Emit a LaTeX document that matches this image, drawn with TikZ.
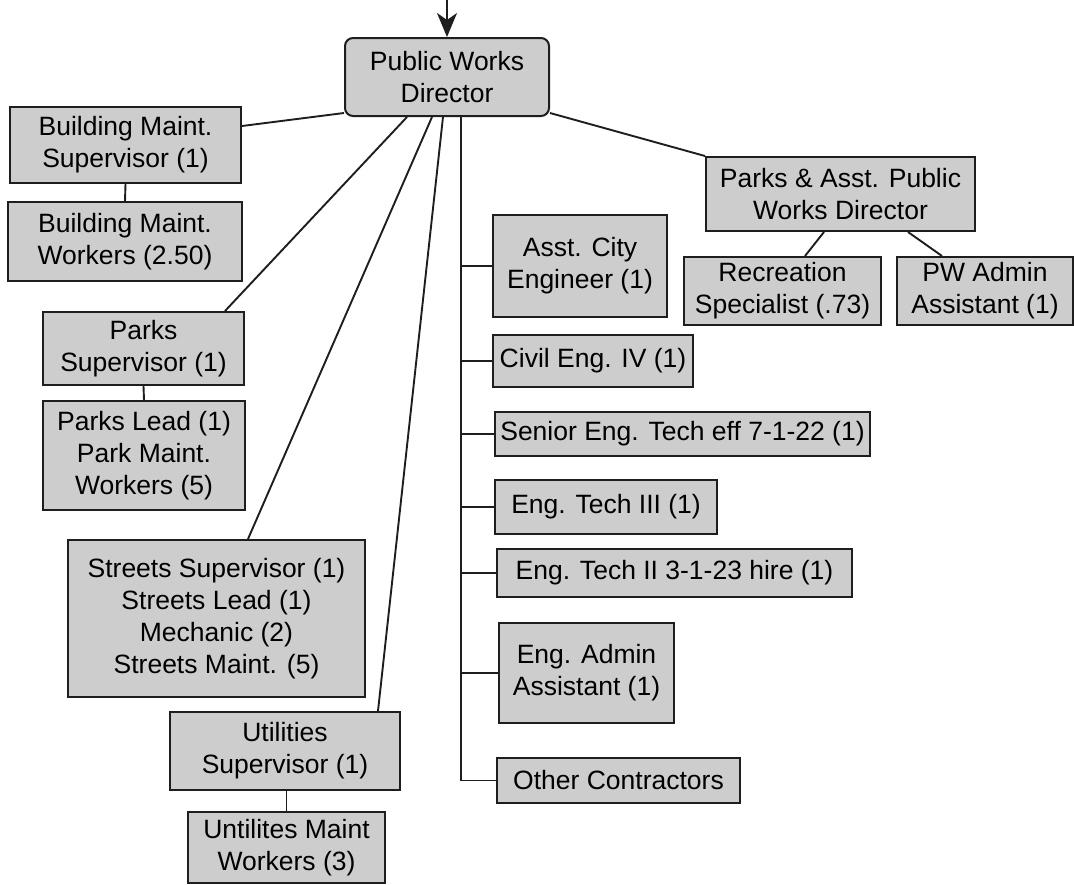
\documentclass[tikz,border=0pt]{standalone}
\usepackage{fontspec}
\setmainfont{Liberation Sans}
\usetikzlibrary{arrows.meta}
\definecolor{boxgray}{HTML}{CDCDCD}
\definecolor{edgegray}{HTML}{1E1E1E}
\tikzset{
  box/.style={draw=edgegray,line width=2pt,fill=boxgray,inner sep=0pt,
    align=center,font=\fontsize{26.5}{32}\selectfont},
  link/.style={draw=edgegray,line width=1.9pt}
}
\begin{document}
\begin{tikzpicture}[x=1pt,y=-1pt]
\useasboundingbox (0,0) rectangle (1074,884);
% Leitung
\node[box,rounded corners=8pt,minimum width=204pt,minimum height=78pt] (pwd) at (447,77) {Public Works\\Director};
\coordinate (top) at (447,0);
\draw[link,-{Stealth[length=24pt,width=20pt,inset=7pt]}] (top) -- (pwd.north);
% linke Seite
\node[box,minimum width=231pt,minimum height=76pt] (bms) at (125.5,145) {Building Maint.\\Supervisor (1)};
\node[box,minimum width=234pt,minimum height=79pt] (bmw) at (125,241.5) {Building Maint.\\Workers (2.50)};
\node[box,minimum width=201pt,minimum height=73pt] (ps) at (143.5,348.5) {Parks\\Supervisor (1)};
\node[box,minimum width=202pt,minimum height=109pt] (pl) at (144,455.5) {Parks Lead (1)\\Park Maint.\\Workers (5)};
\node[box,minimum width=297pt,minimum height=157pt] (st) at (216.5,618.5) {Streets Supervisor (1)\\Streets Lead (1)\\Mechanic (2)\\Streets Maint. (5)};
\node[box,minimum width=230pt,minimum height=78pt] (ut) at (285,751) {Utilities\\Supervisor (1)};
\node[box,minimum width=197pt,minimum height=71pt] (umw) at (286.5,847.5) {Untilites Maint\\Workers (3)};
% Engineering
\node[box,minimum width=174pt,minimum height=102pt] (ace) at (580,266) {Asst. City\\Engineer (1)};
\node[box,minimum width=200pt,minimum height=52pt] (cive) at (593,361) {Civil Eng. IV (1)};
\node[box,minimum width=375pt,minimum height=44pt] (set) at (682.5,434) {Senior Eng. Tech eff 7-1-22 (1)};
\node[box,minimum width=222pt,minimum height=54pt] (et3) at (606,507) {Eng. Tech III (1)};
\node[box,minimum width=355pt,minimum height=48pt] (et2) at (674.5,573) {Eng. Tech II 3-1-23 hire (1)};
\node[box,minimum width=175pt,minimum height=100pt] (eaa) at (586.5,673) {Eng. Admin\\Assistant (1)};
\node[box,minimum width=243pt,minimum height=45pt] (oc) at (618.5,780.5) {Other Contractors};
% rechte Seite
\node[box,minimum width=269pt,minimum height=74pt] (papwd) at (840.5,194) {Parks \& Asst. Public\\Works Director};
\node[box,minimum width=197pt,minimum height=68pt] (rec) at (782.5,291) {Recreation\\Specialist (.73)};
\node[box,minimum width=176pt,minimum height=68pt] (pwa) at (985,291) {PW Admin\\Assistant (1)};
% Verbindungen
\draw[link] ([yshift=4pt]pwd.south west) -- ([yshift=19pt]bms.east);
\draw[link] (bms.south) -- (bmw.north);
\draw[link] ([xshift=-40pt]pwd.south) -- ([xshift=81.5pt]ps.north);
\draw[link] (ps.south) -- (pl.north);
\draw[link] ([xshift=-15pt]pwd.south) -- ([xshift=31.5pt]st.north);
\draw[link] ([xshift=-4pt]pwd.south) -- ([xshift=93pt]ut.north);
\draw[link] (umw.north) -- (umw.north |- ut.south);
\coordinate (trunk) at (461,781);
\draw[link] ([xshift=14pt]pwd.south) -- (trunk);
\foreach \n in {ace,cive,set,et3,et2,eaa,oc}
    \draw[link] (\n.west) -- (\n.west -| trunk);
\draw[link] ([yshift=4pt]pwd.south east) -- (papwd.north west);
\draw[link] ([xshift=-16.5pt]papwd.south) -- ([xshift=22.5pt]rec.north);
\draw[link] ([xshift=67.5pt]papwd.south) -- ([xshift=-43pt]pwa.north);
\end{tikzpicture}
\end{document}
